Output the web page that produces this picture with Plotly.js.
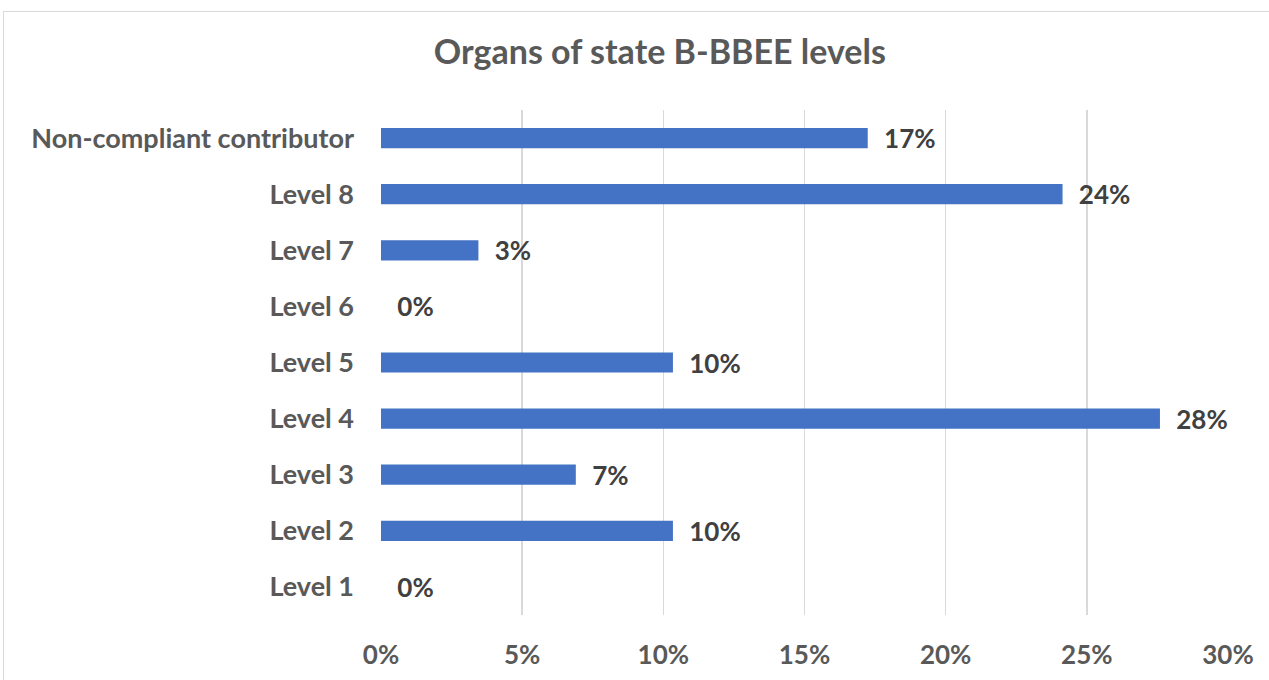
<!DOCTYPE html>
<html>
<head>
<meta charset="utf-8">
<script src="https://cdn.plot.ly/plotly-3.0.1.min.js"></script>
<style>
  html, body { margin: 0; padding: 0; width: 1269px; height: 680px; overflow: hidden; background: #fff; }
  #frame { position: absolute; left: 3px; top: 11px; width: 1300px; height: 700px; border: 1px solid #d9d9d9; box-sizing: border-box; }
  #chart { position: absolute; left: 0; top: 0; width: 1269px; height: 680px; }
</style>
</head>
<body>
<div id="frame"></div>
<div id="chart"></div>
<script>
const categories = ["Level 1", "Level 2", "Level 3", "Level 4", "Level 5", "Level 6", "Level 7", "Level 8", "Non-compliant contributor"];
const shares = [0, 0.1034, 0.069, 0.2759, 0.1034, 0, 0.0345, 0.2414, 0.1724];
const xTickValues = [0, 0.05, 0.10, 0.15, 0.20, 0.25, 0.30];

const FONT = "Lato, 'Open Sans', sans-serif";

const trace = {
  type: 'bar',
  orientation: 'h',
  y: categories,
  x: shares,
  marker: { color: '#4472C4' },
  texttemplate: '\u00a0\u00a0<b>%{x:.0%}</b>',
  textposition: 'outside',
  constraintext: 'none',
  cliponaxis: false,
  textfont: { family: FONT, size: 26, color: '#404040' },
  hoverinfo: 'skip'
};

const layout = {
  width: 1269,
  height: 680,
  margin: { l: 381, r: 41, t: 110, b: 65 },
  paper_bgcolor: 'rgba(0,0,0,0)',
  plot_bgcolor: 'rgba(0,0,0,0)',
  bargap: 0.64,
  showlegend: false,
  title: {
    text: '<b>Organs of state B-BBEE levels</b>',
    font: { family: FONT, size: 34, color: '#595959' },
    x: 0.52, xanchor: 'center',
    y: 0.924, yanchor: 'middle'
  },
  xaxis: {
    range: [0, 0.30],
    tickvals: xTickValues,
    tickformat: '.0%',
    showgrid: true,
    gridcolor: '#d9d9d9',
    gridwidth: 1.5,
    zeroline: false,
    showline: false,
    ticks: '',
    ticklabelstandoff: 22,
    tickfont: { family: FONT, size: 26, color: '#595959', weight: 'bold' },
    fixedrange: true
  },
  yaxis: {
    showgrid: false,
    zeroline: false,
    showline: false,
    ticks: '',
    ticklabelstandoff: 26,
    tickfont: { family: FONT, size: 27, color: '#595959', weight: 'bold' },
    fixedrange: true
  }
};

Plotly.newPlot('chart', [trace], layout, { displayModeBar: false, staticPlot: true });
</script>
</body>
</html>
